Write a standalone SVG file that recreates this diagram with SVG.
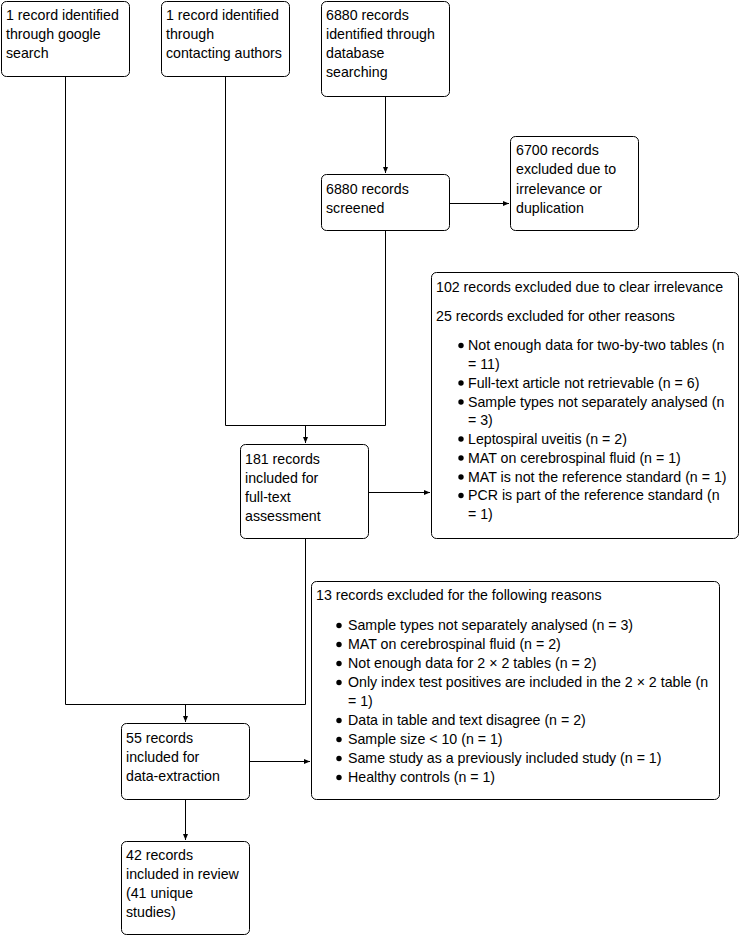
<svg xmlns="http://www.w3.org/2000/svg" width="742" height="936" viewBox="0 0 742 936">
<style>
.box{fill:#fff;stroke:#000;stroke-width:1}
text{font-family:"Liberation Sans",Arial,sans-serif;font-size:14.2px;fill:#000}
.c{fill:none;stroke:#000;stroke-width:1}
</style>
<defs>
<marker id="ah" markerWidth="6" markerHeight="6" refX="6" refY="3" orient="auto" markerUnits="userSpaceOnUse">
<path d="M0,0.5 L6,3 L0,5.5 Z" fill="#000"/>
</marker>
</defs>
<rect width="742" height="936" fill="#fff"/>
<g id="connectors">
<path class="c" d="M65.5,76 V704.5 H305.5 V539"/>
<path class="c" d="M185.5,704.5 V722" marker-end="url(#ah)"/>
<path class="c" d="M225.5,76 V425.5 H385.5 V231"/>
<path class="c" d="M305.5,425.5 V443" marker-end="url(#ah)"/>
<path class="c" d="M385.5,96 V173" marker-end="url(#ah)"/>
<path class="c" d="M449,203.5 H509" marker-end="url(#ah)"/>
<path class="c" d="M369,492.5 H430" marker-end="url(#ah)"/>
<path class="c" d="M249,761.5 H310" marker-end="url(#ah)"/>
<path class="c" d="M185.5,799 V840" marker-end="url(#ah)"/>
</g>
<g id="google">
<rect class="box" x="1.5" y="1.5" width="128" height="75" rx="5"/>
<text x="6" y="20">1 record identified</text>
<text x="6" y="39">through google</text>
<text x="6" y="58">search</text>
</g>
<g id="authors">
<rect class="box" x="161.5" y="1.5" width="128" height="75" rx="5"/>
<text x="166" y="20">1 record identified</text>
<text x="166" y="39">through</text>
<text x="166" y="58">contacting authors</text>
</g>
<g id="database">
<rect class="box" x="321.5" y="1.5" width="128" height="95" rx="5"/>
<text x="326" y="20">6880 records</text>
<text x="326" y="39">identified through</text>
<text x="326" y="58">database</text>
<text x="326" y="77">searching</text>
</g>
<g id="screened">
<rect class="box" x="321.5" y="174.5" width="128" height="56" rx="5"/>
<text x="326" y="194">6880 records</text>
<text x="326" y="213">screened</text>
</g>
<g id="excluded6700">
<rect class="box" x="510.5" y="136.5" width="128" height="94" rx="5"/>
<text x="516" y="155">6700 records</text>
<text x="516" y="174">excluded due to</text>
<text x="516" y="194">irrelevance or</text>
<text x="516" y="213">duplication</text>
</g>
<g id="fulltext">
<rect class="box" x="240.5" y="444.5" width="128" height="94" rx="5"/>
<text x="245" y="464">181 records</text>
<text x="245" y="483">included for</text>
<text x="245" y="502">full-text</text>
<text x="245" y="521">assessment</text>
</g>
<g id="excludedFulltext">
<rect class="box" x="431.5" y="272.5" width="307" height="266" rx="5"/>
<text x="436" y="292">102 records excluded due to clear irrelevance</text>
<text x="436" y="321">25 records excluded for other reasons</text>
<g fill="#000">
<circle cx="461" cy="345.5" r="2.7"/>
<circle cx="461" cy="383" r="2.7"/>
<circle cx="461" cy="402" r="2.7"/>
<circle cx="461" cy="439" r="2.7"/>
<circle cx="461" cy="458" r="2.7"/>
<circle cx="461" cy="477" r="2.7"/>
<circle cx="461" cy="495.5" r="2.7"/>
</g>
<text x="468" y="350">Not enough data for two-by-two tables (n</text>
<text x="468" y="369">= 11)</text>
<text x="468" y="388">Full-text article not retrievable (n = 6)</text>
<text x="468" y="407">Sample types not separately analysed (n</text>
<text x="468" y="425">= 3)</text>
<text x="468" y="444">Leptospiral uveitis (n = 2)</text>
<text x="468" y="463">MAT on cerebrospinal fluid (n = 1)</text>
<text x="468" y="482">MAT is not the reference standard (n = 1)</text>
<text x="468" y="500">PCR is part of the reference standard (n</text>
<text x="468" y="519">= 1)</text>
</g>
<g id="dataExtraction">
<rect class="box" x="121.5" y="723.5" width="128" height="76" rx="5"/>
<text x="126" y="743">55 records</text>
<text x="126" y="762">included for</text>
<text x="126" y="781">data-extraction</text>
</g>
<g id="excluded13">
<rect class="box" x="311.5" y="581.5" width="408" height="218" rx="5"/>
<text x="316" y="600">13 records excluded for the following reasons</text>
<g fill="#000">
<circle cx="339" cy="625.5" r="2.7"/>
<circle cx="339" cy="644.5" r="2.7"/>
<circle cx="339" cy="663.5" r="2.7"/>
<circle cx="339" cy="682.5" r="2.7"/>
<circle cx="339" cy="720.5" r="2.7"/>
<circle cx="339" cy="739.5" r="2.7"/>
<circle cx="339" cy="758.5" r="2.7"/>
<circle cx="339" cy="777.5" r="2.7"/>
</g>
<text x="348" y="630">Sample types not separately analysed (n = 3)</text>
<text x="348" y="649">MAT on cerebrospinal fluid (n = 2)</text>
<text x="348" y="668">Not enough data for 2 × 2 tables (n = 2)</text>
<text x="348" y="687">Only index test positives are included in the 2 × 2 table (n</text>
<text x="348" y="706">= 1)</text>
<text x="348" y="725">Data in table and text disagree (n = 2)</text>
<text x="348" y="744">Sample size &lt; 10 (n = 1)</text>
<text x="348" y="763">Same study as a previously included study (n = 1)</text>
<text x="348" y="782">Healthy controls (n = 1)</text>
</g>
<g id="review">
<rect class="box" x="121.5" y="841.5" width="128" height="93" rx="5"/>
<text x="126" y="860">42 records</text>
<text x="126" y="879">included in review</text>
<text x="126" y="898">(41 unique</text>
<text x="126" y="917">studies)</text>
</g>
</svg>
